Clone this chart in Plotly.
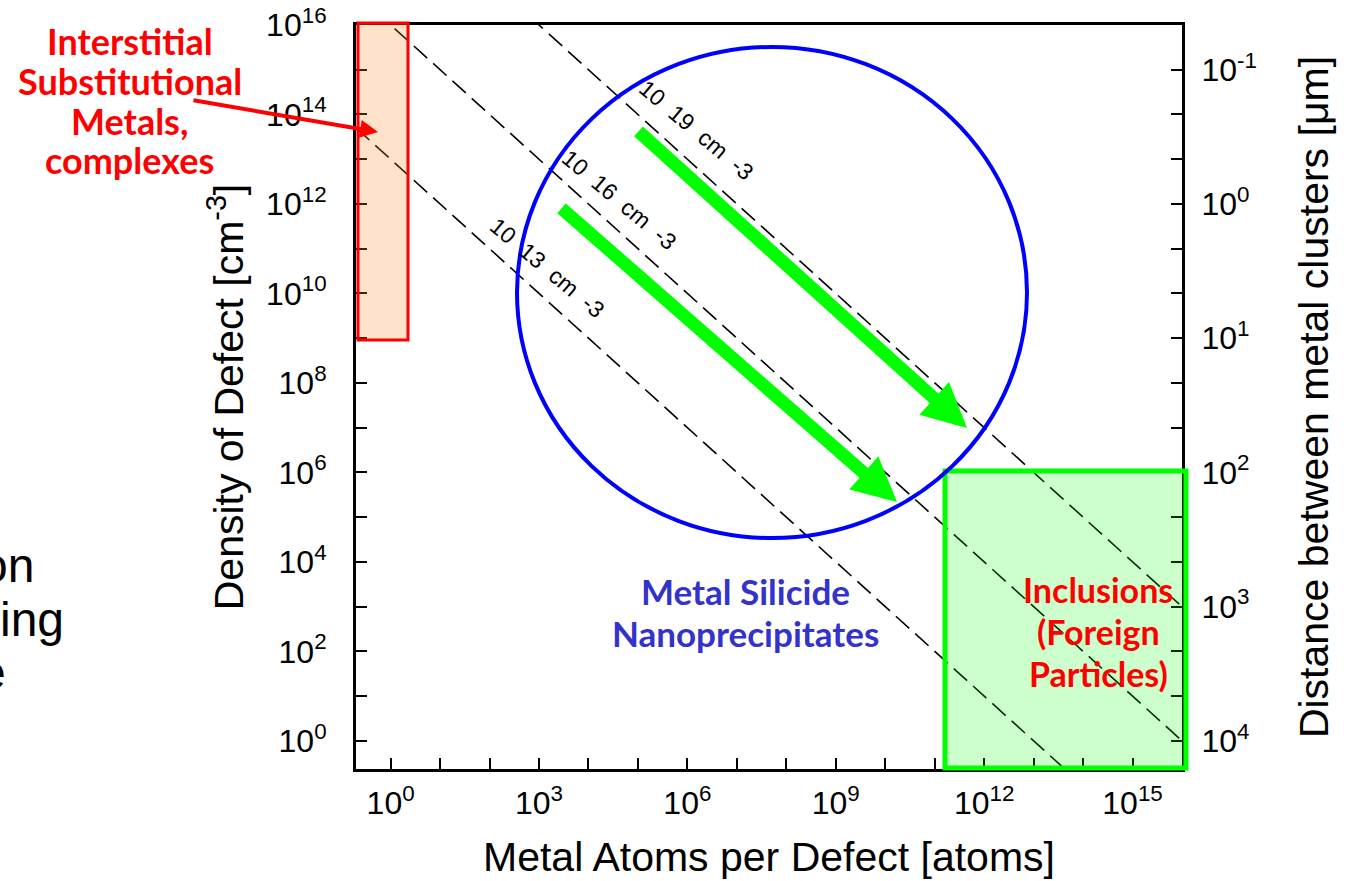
import plotly.graph_objects as go

# ---------------- data ----------------
conc_exp = [13, 16, 19]                      # total metal concentration, log10 [cm^-3]
conc_label_pos = [(3.17, 10.57), (4.63, 12.09), (6.18, 13.65)]  # label anchor (log10 x, log10 y)
x_tick_exp = list(range(0, 16))
x_label_exp = [0, 3, 6, 9, 12, 15]
y_tick_exp = list(range(0, 17))
y_label_exp = [0, 2, 4, 6, 8, 10, 12, 14, 16]
x_range_exp = [-0.7, 16.0]
y_range_exp = [-0.63, 16.0]

NBSP = "\u00a0"

# ---------------- geometry helpers (pixel -> paper) ----------------
W, H = 1352, 881
L, R, T, B = 356, 1182, 25, 769


def pp(x, y):
    return (x - L) / (R - L), (B - y) / (B - T)


fig = go.Figure()

# dashed iso-concentration lines: density * atoms = C
xs = [10 ** x_range_exp[0], 10 ** x_range_exp[1]]
for c in conc_exp:
    fig.add_trace(go.Scatter(
        x=xs, y=[10 ** c / v for v in xs], mode="lines",
        line=dict(color="black", width=1.6, dash="18px,8px"),
        hoverinfo="skip", showlegend=False))

# invisible trace to activate the right (distance) axis
fig.add_trace(go.Scatter(x=[1], y=[1e4], yaxis="y2", mode="markers",
                         marker=dict(opacity=0), hoverinfo="skip", showlegend=False))

tick_font = dict(family="Liberation Sans, Arial, sans-serif", size=32, color="black")
title_font = dict(family="Liberation Sans, Arial, sans-serif", size=41, color="black")


def sup(e):
    return "10<sup>%d</sup>" % e


# distance (um) = 1e4 * density^(-1/3)
dist_tickvals = [10 ** (4 - k / 3) for k in y_tick_exp]
dist_ticktext = [sup(int(round(4 - k / 3))) if k % 3 == 0 else "" for k in y_tick_exp]
y2_range = [4 - y_range_exp[0] / 3, 4 - y_range_exp[1] / 3]

axis_common = dict(type="log", showgrid=False, zeroline=False, showline=True,
                   linecolor="black", linewidth=3, ticks="inside", ticklen=11,
                   tickwidth=2, tickcolor="black", tickfont=tick_font, automargin=False)

fig.update_layout(
    template="none",
    width=W, height=H,
    margin=dict(l=L, r=W - R, t=T, b=H - B, pad=0),
    paper_bgcolor="white", plot_bgcolor="white",
    showlegend=False,
    xaxis=dict(**axis_common, range=x_range_exp, mirror=True,
               tickvals=[10 ** k for k in x_tick_exp],
               ticktext=[sup(k) if k in x_label_exp else "" for k in x_tick_exp],
               ticklabelstandoff=4,
               title=dict(text="Metal Atoms per Defect [atoms]", font=title_font, standoff=22)),
    yaxis=dict(**axis_common, range=y_range_exp, mirror=True,
               tickvals=[10 ** k for k in y_tick_exp],
               ticktext=[sup(k) if k in y_label_exp else "" for k in y_tick_exp],
               ticklabelstandoff=20,
               title=dict(text=NBSP * 2 + "Density of Defect [cm<sup>-3</sup>]", font=title_font,
                          standoff=10)),
    yaxis2=dict(**axis_common, overlaying="y", side="right", range=y2_range,
                tickvals=dist_tickvals, ticktext=dist_ticktext,
                ticklabelstandoff=10,
                title=dict(text="Distance between metal clusters [\u03bcm]" + NBSP * 2, font=title_font,
                           standoff=44)),
)

shapes = []
# orange region (point defects)
x0, y0 = pp(358, 340)
x1, y1 = pp(408, 23)
shapes.append(dict(type="rect", xref="paper", yref="paper", x0=x0, y0=y0, x1=x1, y1=y1,
                   line=dict(color="#ff0000", width=3), fillcolor="rgba(250,140,40,0.25)", layer="above"))
# green region (inclusions)
x0, y0 = pp(945, 768)
x1, y1 = pp(1186, 471)
shapes.append(dict(type="rect", xref="paper", yref="paper", x0=x0, y0=y0, x1=x1, y1=y1,
                   line=dict(color="#00ff00", width=5), fillcolor="rgba(0,255,0,0.2)", layer="above"))
# blue circle (nanoprecipitates)
x0, y0 = pp(517, 538)
x1, y1 = pp(1027, 47)
shapes.append(dict(type="circle", xref="paper", yref="paper", x0=x0, y0=y0, x1=x1, y1=y1,
                   line=dict(color="#0000ff", width=4), layer="above"))
fig.update_layout(shapes=shapes)

ann = []
# concentration line labels
for c, (lx, ly) in zip(conc_exp, conc_label_pos):
    txt = (NBSP * 2).join(["10", str(c), "cm", "-3"])
    ann.append(dict(x=lx, y=ly, xref="x", yref="y", text=txt, showarrow=False,
                    textangle=40, font=dict(family="Liberation Sans, Arial", size=23, color="black")))

# green arrows
for tip, tail in [((967, 428), (637, 130)), ((897, 502), (560, 207))]:
    x, y = pp(*tip)
    ann.append(dict(x=x, y=y, xref="paper", yref="paper", text="", showarrow=True,
                    ax=tail[0] - tip[0], ay=tail[1] - tip[1], axref="pixel", ayref="pixel",
                    arrowhead=2, arrowsize=0.68, arrowwidth=13, arrowcolor="#00ff00"))
# red arrow
x, y = pp(378, 132)
ann.append(dict(x=x, y=y, xref="paper", yref="paper", text="", showarrow=True,
                ax=192 - 378, ay=100 - 132, axref="pixel", ayref="pixel",
                arrowhead=2, arrowsize=0.9, arrowwidth=4, arrowcolor="#ff0000"))


def text_lines(lines, cxs, centers, color, size=34, family="Lato, Open Sans, sans-serif", bold=True,
               xanchor="center"):
    for t, cx, cy in zip(lines, cxs, centers):
        x, y = pp(cx, cy)
        ann.append(dict(x=x, y=y, xref="paper", yref="paper", showarrow=False,
                        text=("<b>%s</b>" % t) if bold else t, xanchor=xanchor, yanchor="middle",
                        font=dict(family=family, size=size, color=color)))


text_lines(["Interstitial", "Substitutional", "Metals,", "complexes"], [130] * 4,
           [41, 81, 121, 160], "#ff0000", size=36)
text_lines(["Metal Silicide", "Nanoprecipitates"], [745] * 2, [591, 633], "#3333cc", size=35)
text_lines(["Inclusions", "(Foreign", "Particles)"], [1098] * 3, [589, 631, 673], "#ff0000", size=34)
# cut-off text from neighbouring slide content
text_lines(["on", "ing", "e"], [36, 66, 8], [565, 619, 672], "black", size=48,
           family="Liberation Sans, Arial", bold=False, xanchor="right")

fig.update_layout(annotations=ann)

fig.write_html("out.html")
